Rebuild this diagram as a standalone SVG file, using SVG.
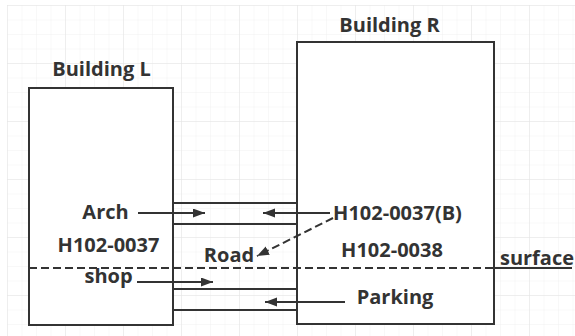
<svg xmlns="http://www.w3.org/2000/svg" width="575" height="336" viewBox="0 0 575 336">
<defs>
<pattern id="minor" x="7" y="5" width="14.5" height="14.5" patternUnits="userSpaceOnUse">
<path d="M0,0 H14.5 M0,0 V14.5" fill="none" stroke="#f1f1f1" stroke-width="1"/>
</pattern>
<pattern id="major" x="7" y="5" width="58" height="58" patternUnits="userSpaceOnUse">
<path d="M0,0 H58 M0,0 V58" fill="none" stroke="#e3e3e3" stroke-width="1"/>
</pattern>
<marker id="ah" markerUnits="userSpaceOnUse" markerWidth="13" markerHeight="10" refX="12" refY="4.5" orient="auto">
<path d="M0,0 L12,4.5 L0,9 Z" fill="#333"/>
</marker>
</defs>
<style>
.box{fill:#fff;stroke:#333;stroke-width:2}
.ln{stroke:#333;stroke-width:2;fill:none}
.dash{stroke-dasharray:8 4}
.arr{marker-end:url(#ah)}
text{font-family:"Open Sans","Liberation Sans",sans-serif;font-weight:bold;font-size:20px;fill:#333;text-anchor:middle}
</style>
<rect x="0" y="0" width="575" height="336" fill="#fff"/>
<rect x="7" y="5" width="568" height="331" fill="url(#minor)"/>
<rect x="7" y="5" width="568" height="331" fill="url(#major)"/>

<g id="buildingL">
<rect class="box" x="29" y="88" width="144" height="237"/>
<text x="101.5" y="76">Building L</text>
</g>
<g id="buildingR">
<rect class="box" x="297" y="42" width="197" height="282"/>
<text x="389.5" y="32">Building R</text>
</g>

<g id="connectors">
<line class="ln" x1="173" y1="203" x2="297" y2="203"/>
<line class="ln" x1="173" y1="224" x2="297" y2="224"/>
<line class="ln" x1="173" y1="289" x2="297" y2="289"/>
<line class="ln" x1="173" y1="310" x2="297" y2="310"/>
<line class="ln dash" x1="29" y1="268" x2="495" y2="268"/>
<line class="ln" x1="495" y1="268" x2="572" y2="268"/>
<line class="ln arr" x1="138" y1="213" x2="205" y2="213"/>
<line class="ln arr" x1="330" y1="213" x2="263" y2="213"/>
<line class="ln arr dash" stroke-dasharray="6 4" x1="333" y1="218" x2="257" y2="256"/>
<line class="ln arr" x1="137" y1="282" x2="213" y2="282"/>
<line class="ln arr" x1="345" y1="302" x2="265" y2="302"/>
</g>

<g id="labels">
<text x="105.5" y="219">Arch</text>
<text x="108.5" y="252">H102-0037</text>
<text x="108.5" y="283">shop</text>
<text x="229" y="262">Road</text>
<text x="397.5" y="220">H102-0037(B)</text>
<text x="392" y="257">H102-0038</text>
<text x="537" y="265">surface</text>
<text x="395" y="304">Parking</text>
</g>
</svg>
